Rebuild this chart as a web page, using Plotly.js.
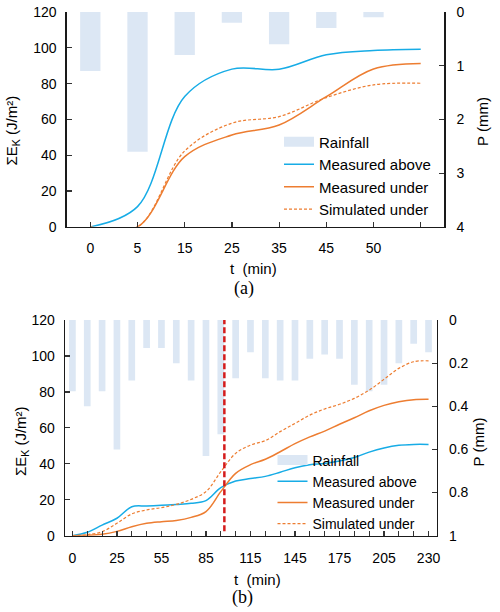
<!DOCTYPE html>
<html>
<head>
<meta charset="utf-8">
<script src="https://cdn.plot.ly/plotly-3.0.1.min.js"></script>
<style>html,body{margin:0;padding:0;background:#fff;}</style>
</head>
<body>
<div id="chart" style="width:500px;height:612px;"></div>
<script>
// ---- Panel (a) ----
const tLabelsA = ['0', '5', '15', '25', '35', '45', '50', ''];
const rainA = [1.1, 2.6, 0.8, 0.2, 0.6, 0.3, 0.1];
const aboveA = [0, 11.3, 72.8, 88.1, 88.0, 96.1, 98.5, 99.2];
const underA = [0, 0, 39.2, 51.3, 56.9, 72.7, 88.2, 91.3];
const simA = [0, 0, 42.4, 57.9, 61.6, 72.2, 79.3, 80.2];

// ---- Panel (b) ----
const tLabelsB = ['0', '', '', '25', '', '', '55', '', '', '85', '', '', '115', '', '', '145', '', '', '175', '', '', '205', '', '', '230'];
const rainB = [0.33, 0.40, 0.33, 0.60, 0.28, 0.13, 0.13, 0.20, 0.28, 0.63, 0.53, 0.27, 0.15, 0.27, 0.28, 0.28, 0.18, 0.16, 0.18, 0.30, 0.33, 0.30, 0.20, 0.11, 0.15];
const aboveB = [0, 1.9, 5.9, 9.7, 16.1, 16.5, 16.9, 17.4, 18.0, 19.5, 26.7, 30.4, 31.8, 33.0, 35.3, 37.8, 39.5, 40.2, 41.5, 43.5, 46.5, 48.8, 50.3, 50.8, 50.8];
const underB = [0, 0.2, 0.8, 2.4, 5.0, 6.9, 7.8, 8.5, 10.2, 13.4, 24.5, 34.7, 39.5, 42.5, 46.7, 51.2, 55.0, 58.2, 62.0, 65.6, 69.5, 72.5, 74.5, 75.7, 75.9];
const simB = [0, 0.6, 2.2, 6.9, 12.1, 14.3, 15.6, 17.4, 20.2, 24.5, 35.6, 45.8, 50.4, 52.9, 57.9, 62.5, 67.1, 70.5, 73.1, 76.4, 81.0, 87.0, 93.1, 96.8, 97.3];
const markerPosB = 10.24; // position of the red dashed divider (category index)

const idxA = tLabelsA.map((_, i) => i);
const idxB = tLabelsB.map((_, i) => i);

const BAR = '#dce7f4';
const BLUE = '#17ace6';
const ORANGE = '#ed7d31';
const FONT = 'Liberation Sans, Arial, sans-serif';

function lines(x, a, u, s, xa, ya, lg) {
  return [
    {type: 'scatter', mode: 'lines', x: x, y: a, xaxis: xa, yaxis: ya, legend: lg,
     name: 'Measured above', line: {color: BLUE, width: 1.5, shape: 'spline', smoothing: 1}},
    {type: 'scatter', mode: 'lines', x: x, y: u, xaxis: xa, yaxis: ya, legend: lg,
     name: 'Measured under', line: {color: ORANGE, width: 1.5, shape: 'spline', smoothing: 1}},
    {type: 'scatter', mode: 'lines', x: x, y: s, xaxis: xa, yaxis: ya, legend: lg,
     name: 'Simulated under', line: {color: ORANGE, width: 1.2, dash: '3px,2px', shape: 'spline', smoothing: 1}}
  ];
}

// legend swatch for the rainfall bars (wide rectangle, as in the original)
function rainKey(xa, ya, lg) {
  return {type: 'scatter', mode: 'lines', x: [null], y: [null], xaxis: xa, yaxis: ya, legend: lg,
          name: 'Rainfall', line: {color: BAR, width: 10}, hoverinfo: 'skip'};
}

const data = [
  rainKey('x', 'y', 'legend'),
  {type: 'bar', x: idxA.slice(0, rainA.length), y: rainA, xaxis: 'x', yaxis: 'y', legend: 'legend',
   name: 'Rainfall', marker: {color: BAR}, width: 0.43, showlegend: false},
  ...lines(idxA, aboveA, underA, simA, 'x', 'y3', 'legend'),
  rainKey('x2', 'y2', 'legend2'),
  {type: 'bar', x: idxB, y: rainB, xaxis: 'x2', yaxis: 'y2', legend: 'legend2',
   name: 'Rainfall', marker: {color: BAR}, width: 0.45, showlegend: false},
  ...lines(idxB, aboveB, underB, simB, 'x2', 'y4', 'legend2')
];

const axCommon = {
  showgrid: false, zeroline: false, showline: true, linecolor: '#1a1a1a', linewidth: 1.4,
  ticks: 'inside', ticklen: 5, tickwidth: 1.2, tickcolor: '#333',
  tickfont: {family: FONT, size: 14, color: '#000'}
};

const legCommon = {
  bgcolor: 'rgba(0,0,0,0)', borderwidth: 0, xanchor: 'left', yanchor: 'top',
  traceorder: 'normal'
};

const layout = {
  width: 500, height: 612,
  margin: {l: 0, r: 0, t: 0, b: 0},
  paper_bgcolor: '#fff', plot_bgcolor: 'rgba(0,0,0,0)',
  font: {family: FONT, color: '#000'},
  barmode: 'overlay',
  xaxis: Object.assign({}, axCommon, {domain: [0.1334, 0.8886], anchor: 'y', range: [-0.5, 7.5],
    tickmode: 'array', tickvals: idxA, ticktext: tLabelsA, ticklabelstandoff: 8}),
  yaxis: Object.assign({}, axCommon, {domain: [0.6293, 0.9804], anchor: 'x', side: 'right',
    range: [4, 0], dtick: 1, ticklabelstandoff: 8}),
  yaxis3: Object.assign({}, axCommon, {overlaying: 'y', anchor: 'x', side: 'left',
    range: [0, 120], dtick: 20, ticklabelstandoff: 6}),
  xaxis2: Object.assign({}, axCommon, {domain: [0.13, 0.8734], anchor: 'y2', range: [-0.5, 24.55],
    tickmode: 'array', tickvals: idxB, ticktext: tLabelsB, ticklabelstandoff: 9}),
  yaxis2: Object.assign({}, axCommon, {domain: [0.1247, 0.4771], anchor: 'x2', side: 'right',
    range: [1, 0], dtick: 0.2, ticklabelstandoff: 8}),
  yaxis4: Object.assign({}, axCommon, {overlaying: 'y2', anchor: 'x2', side: 'left',
    range: [0, 120], dtick: 20, ticklabelstandoff: 6}),
  legend: Object.assign({}, legCommon, {x: 0.558, y: 0.795,
    font: {family: FONT, size: 15, color: '#000'}}),
  legend2: Object.assign({}, legCommon, {x: 0.545, y: 0.2737,
    font: {family: FONT, size: 14, color: '#000'}}),
  shapes: [
    {type: 'line', xref: 'x2', x0: markerPosB, x1: markerPosB, yref: 'y2 domain', y0: 0.02, y1: 1,
     line: {color: '#d41c1c', width: 2.5, dash: '6px,3px'}, layer: 'above'}
  ],
  annotations: [
    {text: 'ΣE<sub>K</sub> (J/m²)', xref: 'paper', yref: 'paper', x: 0.025, y: 0.786, textangle: -90,
     showarrow: false, xanchor: 'center', yanchor: 'middle', font: {family: FONT, size: 15}},
    {text: 'P (mm)', xref: 'paper', yref: 'paper', x: 0.966, y: 0.8007, textangle: -90,
     showarrow: false, xanchor: 'center', yanchor: 'middle', font: {family: FONT, size: 15}},
    {text: 't\u00a0\u00a0(min)', xref: 'paper', yref: 'paper', x: 0.506, y: 0.562,
     showarrow: false, xanchor: 'center', yanchor: 'middle', font: {family: FONT, size: 15}},
    {text: '(a)', xref: 'paper', yref: 'paper', x: 0.488, y: 0.5278,
     showarrow: false, xanchor: 'center', yanchor: 'middle', font: {family: 'Liberation Serif, Times New Roman, serif', size: 18}},
    {text: 'ΣE<sub>K</sub> (J/m²)', xref: 'paper', yref: 'paper', x: 0.042, y: 0.2794, textangle: -90,
     showarrow: false, xanchor: 'center', yanchor: 'middle', font: {family: FONT, size: 15}},
    {text: 'P (mm)', xref: 'paper', yref: 'paper', x: 0.957, y: 0.2778, textangle: -90,
     showarrow: false, xanchor: 'center', yanchor: 'middle', font: {family: FONT, size: 15}},
    {text: 't\u00a0\u00a0(min)', xref: 'paper', yref: 'paper', x: 0.515, y: 0.0523,
     showarrow: false, xanchor: 'center', yanchor: 'middle', font: {family: FONT, size: 15}},
    {text: '(b)', xref: 'paper', yref: 'paper', x: 0.485, y: 0.0245,
     showarrow: false, xanchor: 'center', yanchor: 'middle', font: {family: 'Liberation Serif, Times New Roman, serif', size: 18}}
  ]
};

Plotly.newPlot('chart', data, layout, {staticPlot: true, displayModeBar: false});
</script>
</body>
</html>
